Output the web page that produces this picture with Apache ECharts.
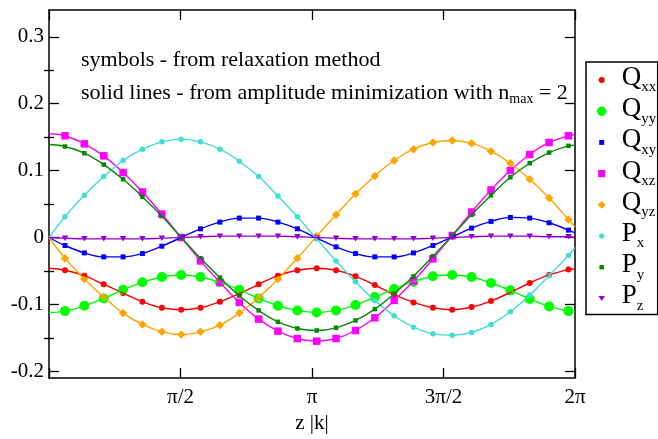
<!DOCTYPE html>
<html>
<head>
<meta charset="utf-8">
<script src="https://cdn.jsdelivr.net/npm/echarts@6/dist/echarts.min.js"></script>
<style>
  html, body { margin: 0; padding: 0; background: #fff; }
  #chart { width: 658px; height: 439px; }
</style>
</head>
<body>
<div id="chart"></div>
<script>
// Positions z|k| along the period; first and last entries are the curve end points,
// the inner 27 entries are the sampled points.
const curveZ = [0, 0.191, 0.422, 0.654, 0.885, 1.116, 1.348, 1.579, 1.810, 2.041, 2.273, 2.504,
  2.735, 2.967, 3.198, 3.429, 3.661, 3.892, 4.123, 4.354, 4.586, 4.817, 5.048, 5.280, 5.511,
  5.742, 5.974, 6.205, 6.283];

const qxx = [-0.046, -0.049, -0.057, -0.070, -0.083, -0.096, -0.105, -0.108, -0.105, -0.096,
  -0.084, -0.070, -0.057, -0.049, -0.046, -0.049, -0.058, -0.071, -0.085, -0.097, -0.105,
  -0.108, -0.104, -0.095, -0.082, -0.068, -0.056, -0.048, -0.047];
const qyy = [-0.112, -0.110, -0.102, -0.091, -0.078, -0.067, -0.059, -0.056, -0.059, -0.067,
  -0.078, -0.091, -0.102, -0.109, -0.112, -0.109, -0.101, -0.089, -0.077, -0.066, -0.058,
  -0.056, -0.059, -0.068, -0.079, -0.092, -0.103, -0.110, -0.111];
const qxy = [0.000, -0.012, -0.023, -0.029, -0.029, -0.024, -0.013, 0.000, 0.013, 0.023,
  0.029, 0.029, 0.023, 0.013, -0.001, -0.014, -0.024, -0.029, -0.029, -0.023, -0.012,
  0.001, 0.014, 0.024, 0.030, 0.029, 0.022, 0.011, 0.007];
const qxz = [0.155, 0.152, 0.140, 0.122, 0.097, 0.068, 0.035, 0.000, -0.035, -0.067,
  -0.097, -0.122, -0.140, -0.151, -0.155, -0.151, -0.139, -0.120, -0.094, -0.065, -0.032,
  0.003, 0.038, 0.071, 0.100, 0.124, 0.142, 0.152, 0.154];
const qyz = [0.000, -0.031, -0.062, -0.089, -0.113, -0.130, -0.141, -0.145, -0.141, -0.131,
  -0.113, -0.090, -0.062, -0.031, 0.002, 0.034, 0.065, 0.092, 0.115, 0.132, 0.142,
  0.145, 0.141, 0.129, 0.111, 0.087, 0.059, 0.027, 0.016];
const px = [0.000, 0.031, 0.063, 0.091, 0.115, 0.132, 0.143, 0.147, 0.143, 0.132,
  0.114, 0.091, 0.062, 0.031, -0.002, -0.035, -0.066, -0.094, -0.117, -0.134, -0.144,
  -0.146, -0.142, -0.130, -0.111, -0.086, -0.057, -0.027, -0.015];
const py = [0.139, 0.136, 0.126, 0.109, 0.087, 0.061, 0.032, 0.000, -0.031, -0.060,
  -0.087, -0.109, -0.126, -0.136, -0.139, -0.135, -0.124, -0.107, -0.084, -0.058, -0.028,
  0.003, 0.034, 0.063, 0.090, 0.111, 0.127, 0.137, 0.138];
const pz = [0.000, -0.001, -0.002, -0.002, -0.002, -0.002, -0.001, 0.000, 0.001, 0.002,
  0.002, 0.002, 0.002, 0.001, 0.000, -0.001, -0.002, -0.002, -0.002, -0.002, -0.001,
  0.000, 0.001, 0.002, 0.002, 0.002, 0.001, 0.001, 0.000];

const seriesNames = ['Qxx', 'Qyy', 'Qxy', 'Qxz', 'Qyz', 'Px', 'Py', 'Pz'];
const seriesValues = [qxx, qyy, qxy, qxz, qyz, px, py, pz];

const xTickLabels = ['', 'π/2', 'π', '3π/2', '2π'];
const yMajorTicks = [-0.2, -0.1, 0, 0.1, 0.2, 0.3];
const yMinorTicks = [-0.15, -0.05, 0.05, 0.15, 0.25];

const note1 = 'symbols - from relaxation method';
const note2 = 'solid lines - from amplitude minimization with n{s|max} = 2';

// Appearance of each set: colour, marker shape, marker size, legend icon
const looks = [
  { color: '#ff0000', symbol: 'circle',  size: 6,   icon: 'path://M0 0M10 10M2 5a3 3 0 1 0 6 0a3 3 0 1 0 -6 0z' },
  { color: '#00ff00', symbol: 'circle',  size: 10,  icon: 'path://M0 0M10 10M0.3 5a4.7 4.7 0 1 0 9.4 0a4.7 4.7 0 1 0 -9.4 0z' },
  { color: '#0000ff', symbol: 'rect',    size: 5,   icon: 'path://M0 0M10 10M2.5 2.5h5v5h-5z' },
  { color: '#ff00ff', symbol: 'rect',    size: 7.5, icon: 'path://M0 0M10 10M1.4 1.4h7.2v7.2h-7.2z' },
  { color: '#ffa500', symbol: 'diamond', size: 8.5, icon: 'path://M0 0M10 10M5 1.1L8.9 5L5 8.9L1.1 5z' },
  { color: '#40e0d0', symbol: 'circle',  size: 5.5, icon: 'path://M0 0M10 10M2.4 5a2.6 2.6 0 1 0 5.2 0a2.6 2.6 0 1 0 -5.2 0z' },
  { color: '#008b00', symbol: 'rect',    size: 4.5, icon: 'path://M0 0M10 10M2.8 2.8h4.4v4.4h-4.4z' },
  { color: '#9400d3', symbol: 'triangle', size: [6.5, 5.5], rotate: 180, icon: 'path://M0 0M10 10M1.8 2.6h6.4l-3.2 5z' }
];

const FONT = 'Liberation Serif';

const series = [];
seriesNames.forEach((name, i) => {
  const vals = seriesValues[i];
  const look = looks[i];
  series.push({
    type: 'line',
    name: name + ' fit',
    data: curveZ.map((z, j) => [z, vals[j]]),
    smooth: 0.4,
    symbol: 'none',
    showSymbol: false,
    lineStyle: { color: look.color, width: 1.4 },
    itemStyle: { color: look.color },
    silent: true
  });
  series.push({
    type: 'scatter',
    name: name,
    data: curveZ.slice(1, -1).map((z, j) => [z, vals[j + 1]]),
    symbol: look.symbol,
    symbolSize: look.size,
    symbolRotate: look.rotate || 0,
    itemStyle: { color: look.color, opacity: 1 },
    silent: true
  });
});

const chart = echarts.init(document.getElementById('chart'), null, { renderer: 'canvas' });

const frameLine = { show: true, onZero: false, lineStyle: { color: '#000', width: 1.5 } };

chart.setOption({
  animation: false,
  backgroundColor: '#fff',
  textStyle: { fontFamily: FONT, color: '#000' },
  grid: { left: 49, right: 83, top: 10, bottom: 61, containLabel: false, outerBoundsMode: 'none' },
  xAxis: [
    {
      type: 'value', position: 'bottom', min: 0, max: 2 * Math.PI, interval: Math.PI / 2,
      axisLine: frameLine,
      axisTick: { show: true, inside: true, length: 10, lineStyle: { color: '#000', width: 1.3 } },
      axisLabel: {
        show: true, margin: 9, fontFamily: FONT, fontSize: 21, color: '#000',
        formatter: v => xTickLabels[Math.round(v / (Math.PI / 2))] || ''
      },
      splitLine: { show: false },
      name: 'z |k|', nameLocation: 'middle', nameGap: 30,
      nameTextStyle: { fontFamily: FONT, fontSize: 21, color: '#000' }
    },
    {
      type: 'value', position: 'top', min: 0, max: 2 * Math.PI, interval: Math.PI / 2,
      axisLine: frameLine,
      axisTick: { show: true, inside: true, length: 10, lineStyle: { color: '#000', width: 1.3 } },
      axisLabel: { show: false },
      splitLine: { show: false }
    }
  ],
  yAxis: [
    {
      type: 'value', position: 'left', min: -0.21, max: 0.34,
      axisLine: frameLine,
      axisTick: { show: true, inside: true, length: 10, customValues: yMajorTicks, lineStyle: { color: '#000', width: 1.3 } },
      axisLabel: {
        show: true, margin: 5, fontFamily: FONT, fontSize: 21, color: '#000',
        customValues: yMajorTicks, formatter: v => String(v)
      },
      splitLine: { show: false }
    },
    {
      type: 'value', position: 'left', min: -0.21, max: 0.34,
      axisLine: { show: false },
      axisTick: { show: true, inside: true, length: 5, customValues: yMinorTicks, lineStyle: { color: '#000', width: 1.3 } },
      axisLabel: { show: false },
      splitLine: { show: false }
    },
    {
      type: 'value', position: 'right', min: -0.21, max: 0.34,
      axisLine: frameLine,
      axisTick: { show: true, inside: true, length: 10, customValues: yMajorTicks, lineStyle: { color: '#000', width: 1.3 } },
      axisLabel: { show: false },
      splitLine: { show: false }
    },
    {
      type: 'value', position: 'right', min: -0.21, max: 0.34,
      axisLine: { show: false },
      axisTick: { show: true, inside: true, length: 5, customValues: yMinorTicks, lineStyle: { color: '#000', width: 1.3 } },
      axisLabel: { show: false },
      splitLine: { show: false }
    }
  ],
  legend: {
    orient: 'vertical',
    left: 586, top: 62,
    padding: [2.5, 1.5, 0.5, 10.7],
    itemWidth: 10, itemHeight: 10, itemGap: 0.2,
    selectedMode: false,
    borderColor: '#000', borderWidth: 1.5, borderRadius: 0,
    backgroundColor: '#fff',
    data: seriesNames.map((n, i) => ({ name: n, icon: looks[i].icon })),
    formatter: n => '{m|' + n[0] + '}{s|' + n.slice(1) + '}',
    textStyle: {
      fontFamily: FONT, color: '#000',
      rich: {
        m: { fontFamily: FONT, fontSize: 27, lineHeight: 22, padding: [0, 0, 4, 10], color: '#000' },
        s: { fontFamily: FONT, fontSize: 15, lineHeight: 16, padding: [15, 0, 0, 0], color: '#000' }
      }
    }
  },
  graphic: [
    {
      type: 'text', x: 81, y: 60, silent: true,
      style: { text: note1, font: '22px "Liberation Serif"', fill: '#000', verticalAlign: 'middle' }
    },
    {
      type: 'text', x: 81, y: 93, silent: true,
      style: {
        text: note2, font: '22px "Liberation Serif"', fill: '#000', verticalAlign: 'middle',
        rich: { s: { font: '14px "Liberation Serif"', fill: '#000', lineHeight: 14, padding: [12, 0, 0, 0] } }
      }
    }
  ],
  series: series
});
</script>
</body>
</html>
